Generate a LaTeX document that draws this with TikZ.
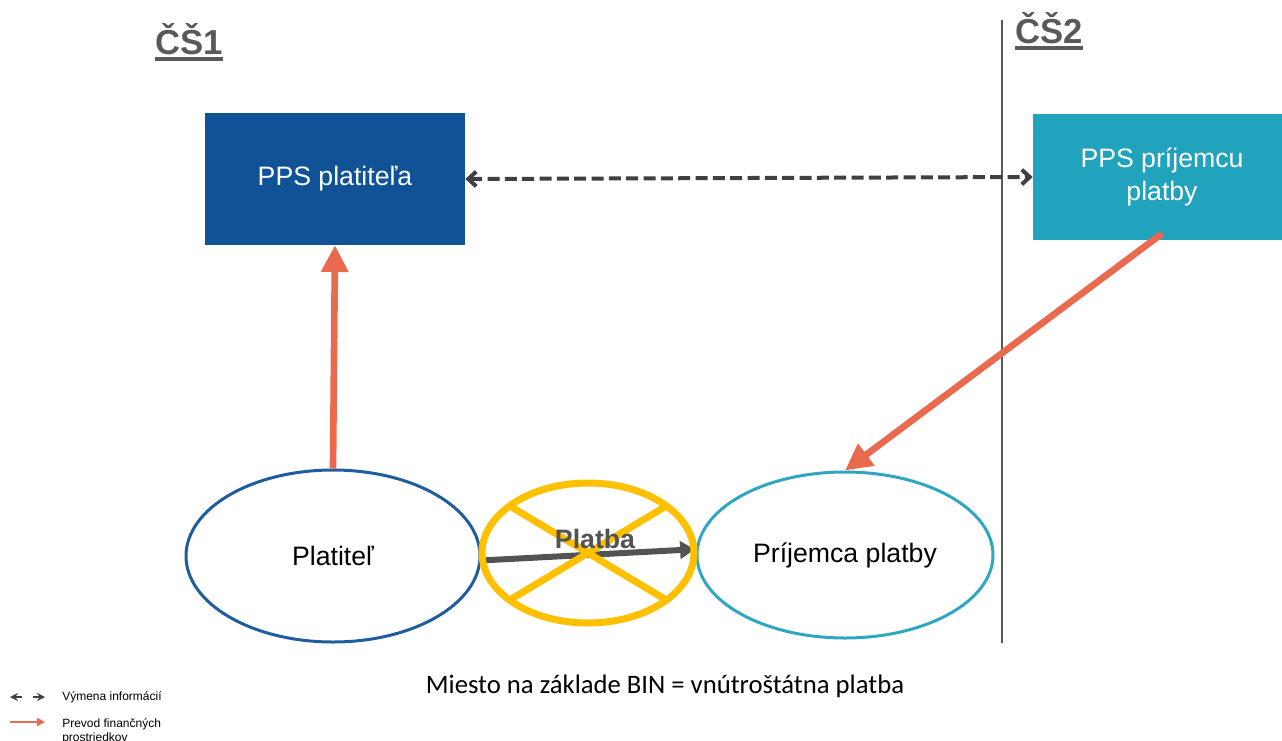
\documentclass[tikz,border=0pt]{standalone}
\usepackage{fontspec}
\setmainfont{Liberation Sans}
\newfontfamily\bottomfont{Carlito}
\usepackage{tikz}
\usetikzlibrary{shapes.geometric,arrows.meta,calc}

\definecolor{paybankblue}{HTML}{0F5396}
\definecolor{rcvbankteal}{HTML}{22A3BD}
\definecolor{payerblue}{HTML}{1F5D9E}
\definecolor{rcvteal}{HTML}{30A7C1}
\definecolor{fundsred}{HTML}{EA6A50}
\definecolor{crossyellow}{HTML}{FFC000}
\definecolor{infogray}{HTML}{404040}
\definecolor{labelgray}{HTML}{595959}

\begin{document}
\begin{tikzpicture}[x=0.75pt,y=0.75pt,yscale=-1,
  bank/.style={inner sep=0pt,text=white,align=center,font=\fontsize{20}{25}\selectfont},
  party/.style={ellipse,draw,line width=2.25pt,inner sep=0pt,font=\fontsize{20}{24}\selectfont},
  funds/.style={draw=fundsred,line width=5pt,-{Triangle[length=20pt,width=19.5pt]}},
  info/.style={draw=infogray,line width=3pt,dash pattern=on 9pt off 4pt,{Straight Barb[length=6pt,width=11pt]}-{Straight Barb[length=6pt,width=11pt]}},
  cs/.style={inner sep=0pt,text=labelgray,font=\fontsize{26}{30}\selectfont\bfseries},
  legend/.style={inner sep=0pt,align=left,font=\fontsize{9}{11}\selectfont}]
\useasboundingbox (0,0) rectangle (1282,740);
\clip (0,0) rectangle (1282,740);

%Straight Lines (border CS1 / CS2)
\coordinate (bordertop) at (1002,20);
\coordinate (borderbot) at (1002,643);
\draw [color=labelgray,line width=1.5pt] (bordertop) -- (borderbot) ;

% Text Node
\node [cs,anchor=base west] (cs1) at (155,54) {ČŠ1};
\draw [color=labelgray,line width=2.5pt] ($(cs1.base west)+(0,5)$) -- ($(cs1.base east)+(0,5)$) ;
% Text Node
\node [cs,anchor=base west] (cs2) at (1015,43) {ČŠ2};
\draw [color=labelgray,line width=2.5pt] ($(cs2.base west)+(0,5)$) -- ($(cs2.base east)+(0,5)$) ;

%Shape: Rectangle
\node [bank,fill=paybankblue,minimum width=195pt,minimum height=99pt] (paybank) at (335,179) {PPS platiteľa};
%Shape: Rectangle
\node [bank,fill=rcvbankteal,minimum width=193.5pt,minimum height=95pt] (rcvbank) at (1162,177) {PPS príjemcu\\platby};

%Shape: Ellipse
\node [party,draw=payerblue,minimum width=220.5pt,minimum height=129pt] (payer) at (333,556) {Platiteľ};
%Shape: Ellipse
\node [party,draw=rcvteal,minimum width=222pt,minimum height=124.5pt] (rcv) at (845,555) {Príjemca platby};

%Straight Lines (payment)
\node [ellipse,inner sep=0pt,minimum width=160pt,minimum height=105pt] (nopay) at (588,553) {};
\draw [color=infogray!90,line width=4.5pt,-{Triangle[length=11pt,width=13pt]}] (nopay.184) -- (nopay.2) ;
\draw [color=crossyellow,line width=5.25pt] (nopay.center) ellipse (106 and 70) ;
\draw [color=crossyellow,line width=5.25pt] (nopay.149) -- (nopay.-31) ;
\draw [color=crossyellow,line width=5.25pt] (nopay.31) -- (nopay.-149) ;
% Text Node
\node [inner sep=0pt,text=infogray!90,font=\fontsize{20}{24}\selectfont\bfseries] (paylabel) at (595,539) {Platba};

%Straight Lines (funds)
\draw [funds] (payer.north) -- (paybank.south) ;
\draw [funds] ($(rcvbank.south)+(0,-7)$) -- (rcv.north) ;
%Straight Lines (information)
\draw [info] (paybank.east) -- (rcvbank.west) ;

% Text Node
\node [inner sep=0pt,font=\bottomfont\fontsize{20}{24}\selectfont] (binnote) at (665,686) {Miesto na základe BIN = vnútroštátna platba};

%Legend
\coordinate (lgia) at (10,697);
\coordinate (lgib) at (22,697);
\coordinate (lgic) at (33,697);
\coordinate (lgid) at (45,697);
\draw [color=infogray,line width=1.5pt,{Stealth[length=6pt,width=6pt]}-] (lgia) -- (lgib) ;
\draw [color=infogray,line width=1.5pt,-{Stealth[length=6pt,width=6pt]}] (lgic) -- (lgid) ;
\node [legend,anchor=west] (lginfo) at (62,697) {Výmena informácií};
\coordinate (lgfa) at (10,722);
\coordinate (lgfb) at (45,722);
\draw [color=fundsred,line width=1.5pt,-{Triangle[length=6pt,width=6pt]}] (lgfa) -- (lgfb) ;
\node [legend,anchor=north west] (lgfunds) at (62,718) {Prevod finančných\\prostriedkov};

\end{tikzpicture}
\end{document}
